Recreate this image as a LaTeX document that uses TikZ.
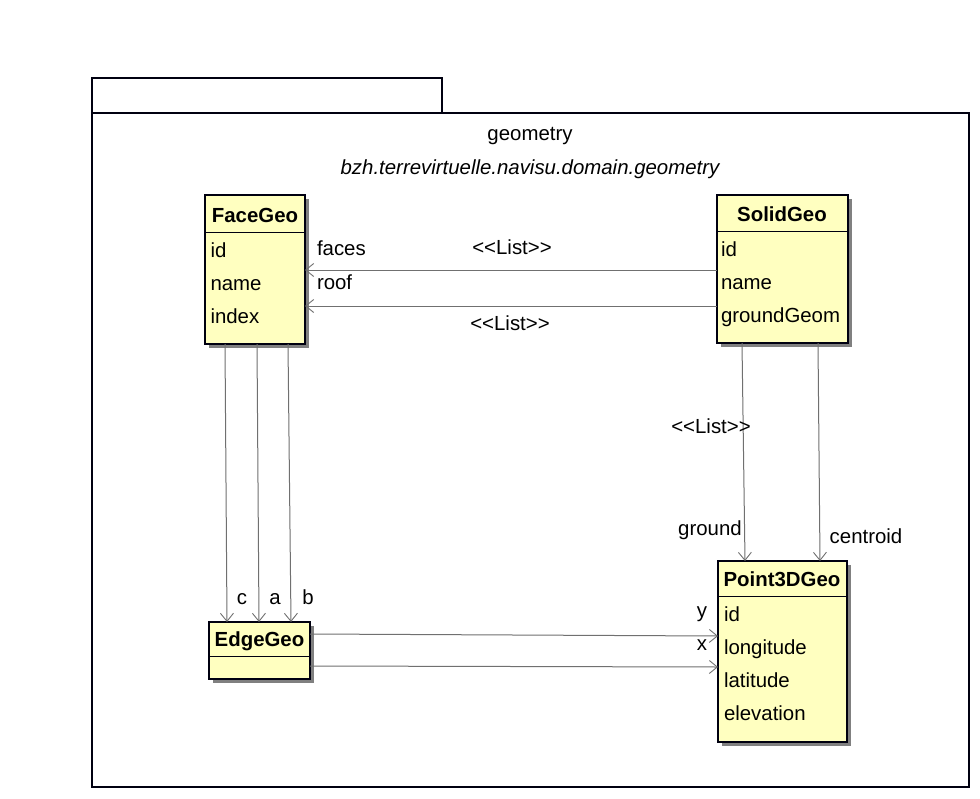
\documentclass[tikz,border=0pt]{standalone}
\usepackage{fontspec}
\setmainfont{Liberation Sans}
\usetikzlibrary{arrows.meta,shadows}
\definecolor{classfill}{HTML}{FFFFC0}
\definecolor{lineblack}{HTML}{000010}
\definecolor{conngray}{HTML}{707070}
\begin{document}
\begin{tikzpicture}[x=1pt,y=-1pt,
  every node/.style={font=\fontsize{20.4}{24}\selectfont, inner sep=0pt, outer sep=0pt},
  pkg/.style={draw=lineblack, line width=1.3pt},
  classbox/.style={draw=lineblack, line width=1.2pt, fill=classfill, anchor=north west,
    drop shadow={shadow xshift=4pt, shadow yshift=-4pt, fill=black!50, opacity=1}},
  sep/.style={draw=lineblack, line width=1pt},
  title/.style={font=\fontsize{20.4}{24}\selectfont\bfseries, anchor=base},
  attr/.style={anchor=base west},
  lbl/.style={anchor=base},
  assoc/.style={draw=conngray, line width=1pt, -{Straight Barb[length=8pt,width=13pt,line width=0.9pt]}},
]
\useasboundingbox (0,0) rectangle (980,798);
\fill[white] (0,0) rectangle (980,798);
% package
\draw[pkg] (92,113) rectangle (442,78);
\draw[pkg] (92,113) rectangle (969,787);
\node[lbl] (pkgname) at (530,140) {geometry};
\node[lbl, font=\fontsize{20.4}{24}\selectfont\itshape] (pkgpath) at (530,174) {bzh.terrevirtuelle.navisu.domain.geometry};

% FaceGeo
\node[classbox, minimum width=100pt, minimum height=149pt] (face) at (205,195) {};
\draw[sep] (205,232) -- (305,232);
\node[title] (faceT) at (255,222) {FaceGeo};
\node[attr] (faceA1) at (210.5,257) {id};
\node[attr] (faceA2) at (210.5,290) {name};
\node[attr] (faceA3) at (210.5,323) {index};

% SolidGeo
\node[classbox, minimum width=131pt, minimum height=148pt] (solid) at (717,195) {};
\draw[sep] (717,231) -- (848,231);
\node[title] (solidT) at (782,221) {SolidGeo};
\node[attr] (solidA1) at (721,256) {id};
\node[attr] (solidA2) at (721,289) {name};
\node[attr] (solidA3) at (721,322) {groundGeom};

% EdgeGeo
\node[classbox, minimum width=101pt, minimum height=57pt] (edge) at (209,622) {};
\draw[sep] (209,656) -- (310,656);
\node[title] (edgeT) at (259.5,646) {EdgeGeo};

% Point3DGeo
\node[classbox, minimum width=129pt, minimum height=181pt] (point) at (718,561) {};
\draw[sep] (718,596) -- (847,596);
\node[title] (pointT) at (782,586) {Point3DGeo};
\node[attr] (pointA1) at (724,621) {id};
\node[attr] (pointA2) at (724,654) {longitude};
\node[attr] (pointA3) at (724,687) {latitude};
\node[attr] (pointA4) at (724,720) {elevation};

% SolidGeo -> FaceGeo
\draw[assoc] (solid.west |- 0,270) -- (face.east |- 0,270);
\draw[assoc] (solid.west |- 0,306) -- (face.east |- 0,306);
\node[attr] (lfaces) at (317,255) {faces};
\node[lbl] (lst1) at (512,254) {<\kern0pt<List>\kern0pt>};
\node[attr] (lroof) at (317,289) {roof};
\node[lbl] (lst2) at (510,330) {<\kern0pt<List>\kern0pt>};

% SolidGeo -> Point3DGeo
\draw[assoc] (742,0 |- solid.south) -- (745,0 |- point.north);
\draw[assoc] (818,0 |- solid.south) -- (820,0 |- point.north);
\node[lbl] (lst3) at (711,433) {<\kern0pt<List>\kern0pt>};
\node[lbl] (lground) at (710,535) {ground};
\node[lbl] (lcentroid) at (866,543) {centroid};

% FaceGeo -> EdgeGeo
\draw[assoc] (225,0 |- face.south) -- (227,0 |- edge.north);
\draw[assoc] (257,0 |- face.south) -- (259,0 |- edge.north);
\draw[assoc] (288,0 |- face.south) -- (291,0 |- edge.north);
\node[lbl] (lc) at (242,604) {c};
\node[lbl] (la) at (275,604) {a};
\node[lbl] (lb) at (308,604) {b};

% EdgeGeo -> Point3DGeo
\draw[assoc] (edge.east |- 0,634) -- (point.west |- 0,636);
\draw[assoc] (edge.east |- 0,666) -- (point.west |- 0,667);
\node[lbl] (ly) at (702,617) {y};
\node[lbl] (lx) at (702,650) {x};
\end{tikzpicture}
\end{document}
